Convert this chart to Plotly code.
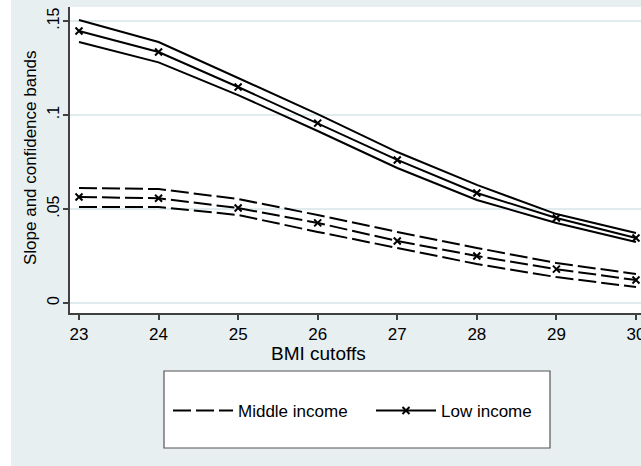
import plotly.graph_objects as go

# BMI cutoffs and estimated slopes with confidence bands
bmi_cutoffs = [23, 24, 25, 26, 27, 28, 29, 30]

low_slope = [0.1447, 0.1335, 0.1149, 0.0957, 0.0761, 0.0585, 0.0452, 0.0346]
low_upper = [0.1505, 0.1388, 0.1197, 0.1005, 0.0803, 0.0628, 0.0473, 0.0372]
low_lower = [0.1388, 0.1280, 0.1106, 0.0915, 0.0718, 0.0548, 0.0426, 0.0324]

mid_slope = [0.0564, 0.0557, 0.0505, 0.0426, 0.0330, 0.0250, 0.0180, 0.0122]
mid_upper = [0.0612, 0.0606, 0.0553, 0.0468, 0.0378, 0.0293, 0.0213, 0.0154]
mid_lower = [0.0511, 0.0511, 0.0468, 0.0378, 0.0293, 0.0207, 0.0138, 0.0085]

y_tickvals = [0, 0.05, 0.1, 0.15]
y_ticktext = ["0", ".05", ".1", ".15"]

BG = "#e8eff1"
GRID = "#e0ebee"
FONT = "Liberation Sans, Arial, sans-serif"

W, H = 641, 466
L, R, T, B = 70, 0, 7, 153
pw, ph = W - L - R, H - T - B

dash = "18px,5px"
line_kw = dict(color="black", width=2)
marker_kw = dict(symbol="x-thin", size=7, line=dict(color="black", width=2))

fig = go.Figure()

# Middle income: dashed bands and slope
fig.add_trace(go.Scatter(x=bmi_cutoffs, y=mid_upper, mode="lines", name="Middle income",
                         line=dict(dash=dash, **line_kw), legendrank=1))
fig.add_trace(go.Scatter(x=bmi_cutoffs, y=mid_slope, mode="lines+markers", showlegend=False,
                         line=dict(dash=dash, **line_kw), marker=marker_kw))
fig.add_trace(go.Scatter(x=bmi_cutoffs, y=mid_lower, mode="lines", showlegend=False,
                         line=dict(dash=dash, **line_kw)))

# Low income: solid bands and slope
fig.add_trace(go.Scatter(x=bmi_cutoffs, y=low_upper, mode="lines", showlegend=False,
                         line=line_kw))
fig.add_trace(go.Scatter(x=bmi_cutoffs, y=low_slope, mode="lines+markers", name="Low income",
                         line=line_kw, legendrank=2, marker=marker_kw))
fig.add_trace(go.Scatter(x=bmi_cutoffs, y=low_lower, mode="lines", showlegend=False,
                         line=line_kw))

def px_x(p):
    return (p - L) / pw

def px_y(p):
    return (H - B - p) / ph

shapes = [
    # white strip along the left edge of the graph
    dict(type="rect", xref="paper", yref="paper", layer="below",
         x0=px_x(0), x1=px_x(11), y0=px_y(H), y1=px_y(0),
         fillcolor="white", line=dict(width=0)),
    # legend frame
    dict(type="rect", xref="paper", yref="paper", layer="below",
         x0=px_x(164), x1=px_x(550), y0=px_y(448), y1=px_y(371),
         fillcolor="white", line=dict(color="#555555", width=1.2)),
]

annotations = [
    dict(text="BMI cutoffs", xref="paper", yref="paper", x=px_x(318), y=px_y(353),
         xanchor="center", yanchor="middle", showarrow=False, font=dict(size=19)),
    dict(text="Slope and confidence bands", xref="paper", yref="paper",
         x=px_x(30), y=px_y(158), textangle=-90,
         xanchor="center", yanchor="middle", showarrow=False, font=dict(size=17)),
]

fig.update_layout(
    width=W, height=H,
    margin=dict(l=L, r=R, t=T, b=B, pad=0),
    paper_bgcolor=BG, plot_bgcolor="white",
    font=dict(family=FONT, color="black", size=16),
    shapes=shapes,
    annotations=annotations,
    showlegend=True,
    legend=dict(orientation="h", x=px_x(168), y=px_y(411), xanchor="left", yanchor="middle",
                bgcolor="rgba(0,0,0,0)", borderwidth=0, font=dict(size=17),
                itemwidth=60, entrywidth=128, traceorder="normal"),
    xaxis=dict(range=[22.887, 30.063], tickvals=bmi_cutoffs, showgrid=False, zeroline=False,
               showline=True, linecolor="#404040", linewidth=1.5,
               ticks="outside", ticklen=5, tickwidth=1.5, tickcolor="#404040",
               tickfont=dict(size=17), automargin=False, ticklabeloverflow="allow",
               ticklabelstandoff=0),
    yaxis=dict(range=[-0.00532, 0.15745], tickvals=y_tickvals, ticktext=y_ticktext,
               tickangle=-90, showgrid=True, gridcolor=GRID, gridwidth=1.5, zeroline=False,
               showline=True, linecolor="#404040", linewidth=1.5,
               ticks="outside", ticklen=5, tickwidth=1.5, tickcolor="#404040",
               tickfont=dict(size=16), automargin=False, ticklabelstandoff=-2),
)

fig.write_html("out.html")
